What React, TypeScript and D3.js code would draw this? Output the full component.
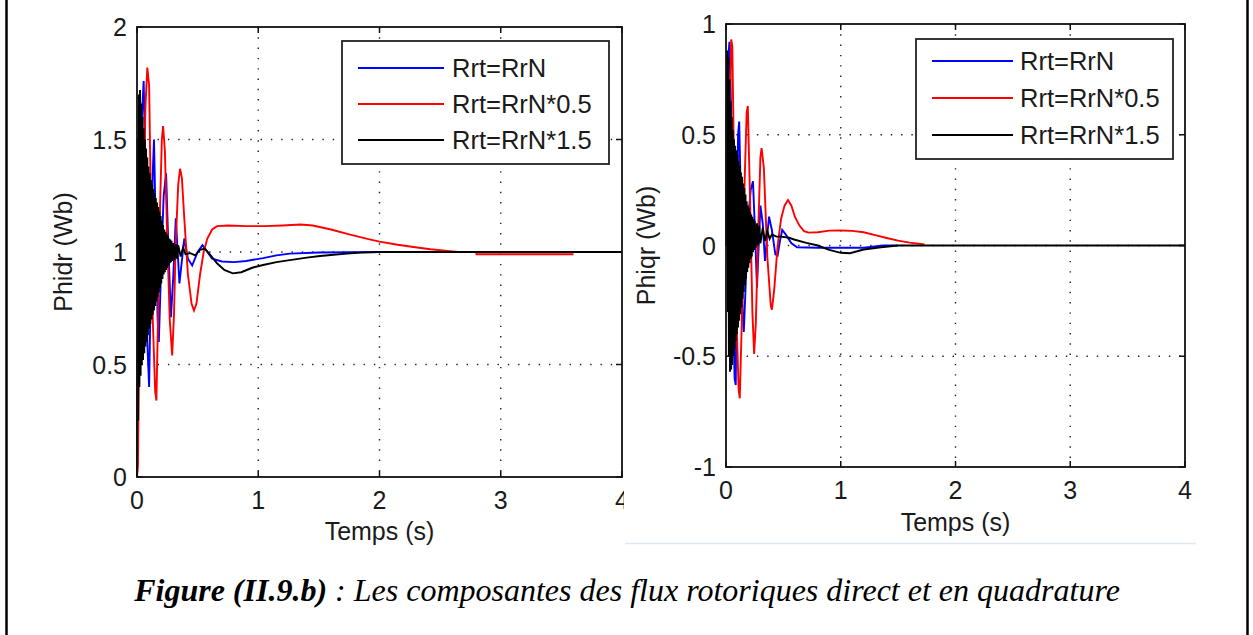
import React from "react";
import * as d3 from "d3";

type Pt = [number, number];

// Time axis ticks (s)
const timeTicks = [0, 1, 2, 3, 4];
const phidrTicks = [0, 0.5, 1, 1.5, 2];
const phiqrTicks = [-1, -0.5, 0, 0.5, 1];

const legendLabels = ["Rrt=RrN", "Rrt=RrN*0.5", "Rrt=RrN*1.5"];
const seriesColors = ["#0000ff", "#ff0000", "#000000"];

// Phidr (Wb) — direct rotor flux, Rrt = RrN
const phidrNominal: Pt[] = [
  [0, 0.0], [0.01, 0.5], [0.02, 1.2], [0.04, 1.6], [0.055, 1.76], [0.07, 1.3],
  [0.085, 0.6], [0.1, 0.4], [0.115, 0.9], [0.13, 1.35], [0.14, 1.5], [0.155, 1.1],
  [0.17, 0.7], [0.18, 0.6], [0.2, 0.95], [0.22, 1.25], [0.24, 1.35], [0.26, 1.0],
  [0.28, 0.71], [0.3, 0.9], [0.32, 1.15], [0.35, 0.86], [0.39, 1.06], [0.42, 0.97],
  [0.455, 0.94], [0.5, 1.0], [0.54, 1.03], [0.58, 1.0], [0.62, 0.97], [0.7, 0.958],
  [0.8, 0.955], [0.9, 0.96], [1.04, 0.973], [1.15, 0.985], [1.26, 0.993],
  [1.5, 0.998], [2.0, 1.0],
];

// Phidr (Wb) — Rrt = RrN*0.5
const phidrHalf: Pt[] = [
  [0, 0.0], [0.008, 0.05], [0.015, 0.5], [0.025, 1.1], [0.04, 1.45], [0.055, 1.25],
  [0.07, 1.65], [0.085, 1.82], [0.1, 1.74], [0.115, 1.2], [0.13, 0.7], [0.15, 0.38],
  [0.16, 0.34], [0.175, 0.75], [0.19, 1.2], [0.205, 1.5], [0.215, 1.56], [0.23, 1.45],
  [0.25, 1.05], [0.27, 0.7], [0.29, 0.54], [0.305, 0.72], [0.32, 1.05], [0.34, 1.3],
  [0.355, 1.37], [0.37, 1.33], [0.39, 1.15], [0.42, 0.9], [0.45, 0.77], [0.47, 0.74],
  [0.49, 0.77], [0.52, 0.9], [0.55, 1.0], [0.58, 1.06], [0.62, 1.1], [0.66, 1.115],
  [0.75, 1.118], [0.9, 1.115], [1.05, 1.115], [1.2, 1.118], [1.35, 1.122],
  [1.45, 1.118], [1.6, 1.1], [1.75, 1.078], [1.9, 1.058], [2.0, 1.046],
  [2.15, 1.032], [2.28, 1.022], [2.42, 1.012], [2.56, 1.005], [2.65, 1.0],
  [2.8, 1.0], [2.8, 0.99], [3.6, 0.99],
];

// Phidr (Wb) — Rrt = RrN*1.5
const phidrOneHalf: Pt[] = [
  [0, 0.0], [0.005, 1.5], [0.01, 0.25], [0.015, 1.7], [0.02, 0.4], [0.025, 1.72],
  [0.03, 0.45], [0.035, 1.66], [0.04, 0.5], [0.045, 1.6], [0.05, 0.52], [0.055, 1.55],
  [0.06, 0.55], [0.065, 1.5], [0.07, 0.58], [0.075, 1.46], [0.08, 0.6], [0.085, 1.42],
  [0.09, 0.63], [0.095, 1.38], [0.1, 0.66], [0.105, 1.35], [0.11, 0.68], [0.115, 1.32],
  [0.12, 0.7], [0.125, 1.3], [0.13, 0.72], [0.135, 1.28], [0.14, 0.74], [0.145, 1.26],
  [0.15, 0.76], [0.155, 1.24], [0.16, 0.78], [0.165, 1.22], [0.17, 0.8], [0.175, 1.2],
  [0.18, 0.82], [0.185, 1.18], [0.19, 0.84], [0.195, 1.16], [0.2, 0.86], [0.205, 1.14],
  [0.21, 0.88], [0.215, 1.12], [0.22, 0.9], [0.225, 1.1], [0.23, 0.91], [0.235, 1.09],
  [0.24, 0.92], [0.245, 1.08], [0.25, 0.93], [0.255, 1.07], [0.26, 0.94], [0.265, 1.06],
  [0.27, 0.95], [0.275, 1.055], [0.28, 0.955], [0.285, 1.05], [0.29, 0.96], [0.3, 1.04],
  [0.31, 0.965], [0.32, 1.035], [0.33, 0.97], [0.34, 1.03], [0.36, 0.98], [0.38, 1.02],
  [0.4, 0.99], [0.44, 0.995], [0.48, 0.985], [0.52, 1.01], [0.56, 1.015], [0.6, 0.99],
  [0.66, 0.95], [0.72, 0.92], [0.79, 0.905], [0.86, 0.91], [0.95, 0.93], [1.04, 0.942],
  [1.15, 0.955], [1.26, 0.964], [1.4, 0.975], [1.51, 0.982], [1.62, 0.988],
  [1.73, 0.993], [1.85, 0.997], [2.0, 1.0], [4.0, 1.0],
];

// Phiqr (Wb) — quadrature rotor flux, Rrt = RrN
const phiqrNominal: Pt[] = [
  [0, 0.0], [0.01, 0.4], [0.02, 0.85], [0.03, 0.92], [0.045, 0.6], [0.06, -0.2],
  [0.075, -0.6], [0.085, -0.63], [0.095, 0.0], [0.105, 0.5], [0.115, 0.56],
  [0.13, 0.2], [0.145, -0.3], [0.155, -0.39], [0.17, -0.2], [0.19, 0.1],
  [0.215, 0.25], [0.235, 0.29], [0.25, 0.1], [0.27, -0.19], [0.285, 0.0],
  [0.3, 0.18], [0.32, 0.1], [0.34, -0.07], [0.36, 0.05], [0.375, 0.13], [0.4, 0.07],
  [0.43, -0.04], [0.45, -0.045], [0.47, 0.02], [0.49, 0.07], [0.52, 0.05],
  [0.57, 0.01], [0.62, -0.008], [0.8, -0.01], [1.0, -0.01], [1.2, -0.01],
  [1.37, 0.0], [1.5, 0.0],
];

// Phiqr (Wb) — Rrt = RrN*0.5
const phiqrHalf: Pt[] = [
  [0, 0.12], [0.01, 0.3], [0.02, 0.1], [0.03, 0.5], [0.045, 0.93], [0.055, 0.9],
  [0.07, 0.35], [0.09, -0.3], [0.11, -0.65], [0.12, -0.69], [0.14, -0.3],
  [0.16, 0.25], [0.18, 0.6], [0.19, 0.63], [0.21, 0.2], [0.23, -0.3], [0.245, -0.49],
  [0.26, -0.35], [0.28, 0.05], [0.3, 0.4], [0.31, 0.44], [0.33, 0.35], [0.36, -0.05],
  [0.39, -0.27], [0.4, -0.29], [0.42, -0.2], [0.45, 0.0], [0.48, 0.12], [0.51, 0.18],
  [0.54, 0.205], [0.57, 0.18], [0.6, 0.13], [0.64, 0.09], [0.68, 0.065],
  [0.72, 0.058], [0.8, 0.06], [0.9, 0.067], [1.0, 0.068], [1.1, 0.066], [1.2, 0.06],
  [1.3, 0.047], [1.4, 0.034], [1.5, 0.022], [1.6, 0.013], [1.73, 0.005],
];

// Phiqr (Wb) — Rrt = RrN*1.5
const phiqrOneHalf: Pt[] = [
  [0, 0.0], [0.005, 0.6], [0.01, 0.88], [0.015, -0.3], [0.02, 0.85], [0.025, -0.5],
  [0.03, 0.75], [0.035, -0.57], [0.04, 0.65], [0.045, -0.56], [0.05, 0.58], [0.055, -0.54],
  [0.06, 0.52], [0.065, -0.5], [0.07, 0.48], [0.075, -0.47], [0.08, 0.45], [0.085, -0.43],
  [0.09, 0.43], [0.095, -0.4], [0.1, 0.41], [0.105, -0.37], [0.11, 0.38], [0.115, -0.34],
  [0.12, 0.36], [0.125, -0.31], [0.13, 0.33], [0.135, -0.28], [0.14, 0.31], [0.145, -0.24],
  [0.15, 0.28], [0.155, -0.21], [0.16, 0.26], [0.165, -0.18], [0.17, 0.23], [0.175, -0.15],
  [0.18, 0.2], [0.185, -0.12], [0.19, 0.18], [0.195, -0.1], [0.2, 0.17], [0.205, -0.08],
  [0.21, 0.15], [0.215, -0.06], [0.22, 0.14], [0.225, -0.05], [0.23, 0.13], [0.235, -0.03],
  [0.24, 0.12], [0.245, -0.02], [0.25, 0.11], [0.26, -0.01], [0.27, 0.1], [0.28, 0.0],
  [0.29, 0.09], [0.3, 0.01], [0.32, 0.08], [0.34, 0.02], [0.36, 0.065], [0.38, 0.03],
  [0.4, 0.05], [0.44, 0.04], [0.48, 0.04], [0.55, 0.035], [0.6, 0.026], [0.7, 0.012],
  [0.8, 0.0], [0.9, -0.02], [1.0, -0.033], [1.08, -0.035], [1.2, -0.018], [1.35, -0.008],
  [1.5, 0.0], [4.0, 0.0],
];

const SANS = "'Liberation Sans', Arial, Helvetica, sans-serif";
const SERIF = "'Liberation Serif', 'Times New Roman', serif";
const TEXT = "#1a1a1a";

interface PanelProps {
  left: number;
  right: number;
  top: number;
  bottom: number;
  yDomain: [number, number];
  yTicks: number[];
  yLabel: string;
  yLabelX: number;
  xLabelY: number;
  series: Pt[][];
  legend: { x: number; y: number; w: number; h: number; lineX0: number; lineX1: number; textX: number; rows: number[] };
}

function Panel(p: PanelProps) {
  const x = d3.scaleLinear().domain([0, 4]).range([p.left, p.right]);
  const y = d3.scaleLinear().domain(p.yDomain).range([p.bottom, p.top]);
  const line = d3
    .line<Pt>()
    .x((d) => x(d[0]))
    .y((d) => y(d[1]));
  const tickLen = 6;
  const innerX = timeTicks.filter((t) => t > 0 && t < 4);
  const innerY = p.yTicks.slice(1, -1);
  const grid = { stroke: "#222", strokeWidth: 1.4, strokeDasharray: "1.4 8.9" };
  return (
    <g>
      <rect x={p.left} y={p.top} width={p.right - p.left} height={p.bottom - p.top} fill="#fff" />
      {/* dotted grid */}
      {innerX.map((t) => (
        <line key={"gx" + t} x1={x(t)} x2={x(t)} y1={p.top} y2={p.bottom} {...grid} />
      ))}
      {innerY.map((v) => (
        <line key={"gy" + v} x1={p.left} x2={p.right} y1={y(v)} y2={y(v)} {...grid} />
      ))}
      {/* inward ticks on all four sides */}
      {timeTicks.map((t) => (
        <g key={"tx" + t} stroke="#111" strokeWidth={1.5}>
          <line x1={x(t)} x2={x(t)} y1={p.bottom} y2={p.bottom - tickLen} />
          <line x1={x(t)} x2={x(t)} y1={p.top} y2={p.top + tickLen} />
        </g>
      ))}
      {p.yTicks.map((v) => (
        <g key={"ty" + v} stroke="#111" strokeWidth={1.5}>
          <line x1={p.left} x2={p.left + tickLen} y1={y(v)} y2={y(v)} />
          <line x1={p.right} x2={p.right - tickLen} y1={y(v)} y2={y(v)} />
        </g>
      ))}
      {/* curves */}
      {p.series.map((s, i) => (
        <path
          key={"s" + i}
          d={line(s) || ""}
          fill="none"
          stroke={seriesColors[i]}
          strokeWidth={1.9}
          strokeLinejoin="miter"
        />
      ))}
      <rect
        x={p.left}
        y={p.top}
        width={p.right - p.left}
        height={p.bottom - p.top}
        fill="none"
        stroke="#111"
        strokeWidth={1.8}
      />
      {/* tick labels */}
      {timeTicks.map((t) => (
        <text
          key={"lx" + t}
          x={x(t)}
          y={p.bottom + 23}
          textAnchor="middle"
          dominantBaseline="central"
          fontFamily={SANS}
          fontSize={25}
          fill={TEXT}
        >
          {String(t)}
        </text>
      ))}
      {p.yTicks.map((v) => (
        <text
          key={"ly" + v}
          x={p.left - 10}
          y={y(v)}
          textAnchor="end"
          dominantBaseline="central"
          fontFamily={SANS}
          fontSize={25}
          fill={TEXT}
        >
          {String(v)}
        </text>
      ))}
      {/* axis titles */}
      <text
        x={(p.left + p.right) / 2}
        y={p.xLabelY}
        textAnchor="middle"
        fontFamily={SANS}
        fontSize={25}
        fill={TEXT}
      >
        Temps (s)
      </text>
      <text
        transform={`translate(${p.yLabelX},${(p.top + p.bottom) / 2}) rotate(-90)`}
        textAnchor="middle"
        dominantBaseline="central"
        fontFamily={SANS}
        fontSize={25}
        fill={TEXT}
      >
        {p.yLabel}
      </text>
      {/* legend */}
      <rect
        x={p.legend.x}
        y={p.legend.y}
        width={p.legend.w}
        height={p.legend.h}
        fill="#fff"
        stroke="#222"
        strokeWidth={1.8}
      />
      {legendLabels.map((lab, i) => (
        <g key={"lg" + i}>
          <line
            x1={p.legend.lineX0}
            x2={p.legend.lineX1}
            y1={p.legend.rows[i]}
            y2={p.legend.rows[i]}
            stroke={seriesColors[i]}
            strokeWidth={1.9}
          />
          <text
            x={p.legend.textX}
            y={p.legend.rows[i]}
            dominantBaseline="central"
            fontFamily={SANS}
            fontSize={25.5}
            fill={TEXT}
          >
            {lab}
          </text>
        </g>
      ))}
    </g>
  );
}

export default function App() {
  return (
    <svg
      width={1253}
      height={635}
      viewBox="0 0 1253 635"
      style={{ position: "absolute", left: 0, top: 0, background: "#fff" }}
    >
      <rect x={0} y={0} width={1253} height={635} fill="#fff" />
      <Panel
        left={137}
        right={622}
        top={27}
        bottom={477}
        yDomain={[0, 2]}
        yTicks={phidrTicks}
        yLabel="Phidr (Wb)"
        yLabelX={63}
        xLabelY={540}
        series={[phidrNominal, phidrHalf, phidrOneHalf]}
        legend={{ x: 342, y: 41, w: 267, h: 123, lineX0: 358, lineX1: 444, textX: 452, rows: [68, 104, 140] }}
      />
      {/* right figure sits over the edge of the left one */}
      <rect x={624} y={0} width={572} height={543} fill="#fff" />
      <line x1={625} x2={1196} y1={543.5} y2={543.5} stroke="#e2e8f1" strokeWidth={1.5} />
      <Panel
        left={726}
        right={1185}
        top={24}
        bottom={467}
        yDomain={[-1, 1]}
        yTicks={phiqrTicks}
        yLabel="Phiqr (Wb)"
        yLabelX={646}
        xLabelY={531}
        series={[phiqrNominal, phiqrHalf, phiqrOneHalf]}
        legend={{ x: 916, y: 39, w: 257, h: 120, lineX0: 932, lineX1: 1013, textX: 1020, rows: [61, 98, 135] }}
      />
      {/* page frame */}
      <line x1={6.5} x2={6.5} y1={0} y2={635} stroke="#000" strokeWidth={2.5} />
      <line x1={1247.5} x2={1247.5} y1={0} y2={635} stroke="#000" strokeWidth={2.5} />
      <text
        x={627}
        y={601}
        textAnchor="middle"
        fontFamily={SERIF}
        fontStyle="italic"
        fontSize={32}
        fill="#000"
      >
        <tspan fontWeight="bold">Figure (II.9.b)</tspan>
        <tspan> : Les composantes des flux rotoriques direct et en quadrature</tspan>
      </text>
    </svg>
  );
}
